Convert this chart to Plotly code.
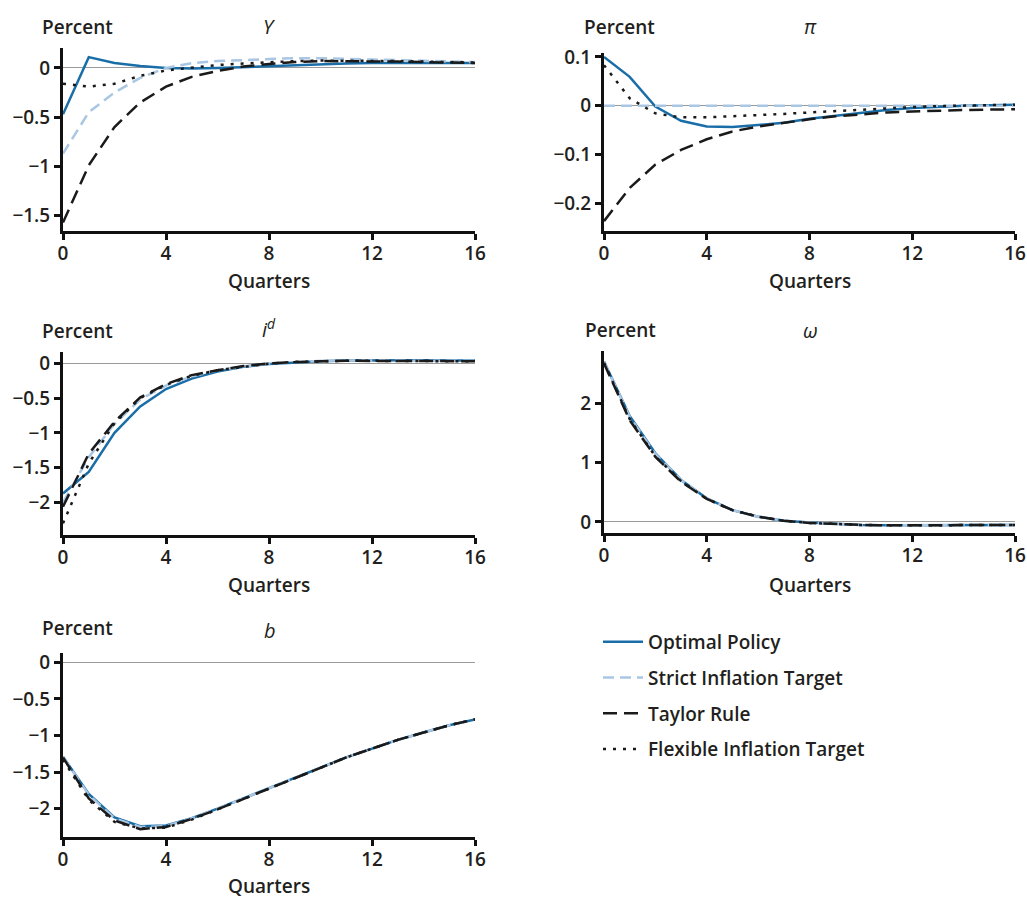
import plotly.graph_objects as go

quarters = list(range(17))

# ---- Output Y ----
y_optimal = [-0.47, 0.11, 0.05, 0.02, 0.0, -0.005, 0.0, 0.01, 0.02, 0.03, 0.04, 0.045, 0.05, 0.05, 0.05, 0.05, 0.05]
y_strict = [-0.87, -0.45, -0.25, -0.10, 0.0, 0.05, 0.07, 0.08, 0.09, 0.10, 0.10, 0.09, 0.085, 0.08, 0.075, 0.07, 0.06]
y_taylor = [-1.57, -0.99, -0.60, -0.35, -0.19, -0.09, -0.03, 0.015, 0.04, 0.06, 0.07, 0.07, 0.07, 0.065, 0.06, 0.055, 0.05]
y_flex = [-0.16, -0.19, -0.16, -0.08, -0.025, 0.0, 0.03, 0.045, 0.06, 0.07, 0.075, 0.075, 0.07, 0.07, 0.065, 0.06, 0.055]

# ---- Inflation pi ----
pi_optimal = [0.10, 0.059, -0.002, -0.031, -0.043, -0.044, -0.040, -0.035, -0.027, -0.021, -0.014, -0.009, -0.005, -0.002, 0.0, 0.001, 0.002]
pi_strict = [0.0] * 17
pi_taylor = [-0.237, -0.169, -0.121, -0.091, -0.069, -0.053, -0.043, -0.035, -0.028, -0.022, -0.018, -0.014, -0.012, -0.010, -0.009, -0.008, -0.0075]
pi_flex = [0.083, 0.015, -0.016, -0.024, -0.024, -0.022, -0.020, -0.017, -0.014, -0.011, -0.0075, -0.005, -0.003, -0.001, 0.0, 0.001, 0.002]

# ---- Deposit rate i^d ----
id_optimal = [-1.87, -1.56, -1.00, -0.62, -0.37, -0.22, -0.12, -0.05, -0.01, 0.015, 0.03, 0.04, 0.045, 0.045, 0.045, 0.04, 0.04]
id_strict = [-2.00, -1.35, -0.87, -0.52, -0.32, -0.19, -0.10, -0.045, -0.005, 0.02, 0.035, 0.04, 0.04, 0.04, 0.04, 0.035, 0.035]
id_taylor = [-2.06, -1.30, -0.84, -0.49, -0.30, -0.17, -0.10, -0.04, 0.0, 0.02, 0.03, 0.035, 0.035, 0.03, 0.03, 0.03, 0.03]
id_flex = [-2.30, -1.44, -0.86, -0.50, -0.31, -0.18, -0.10, -0.05, -0.005, 0.02, 0.03, 0.035, 0.035, 0.03, 0.03, 0.03, 0.03]

# ---- omega ----
w_optimal = [2.71, 1.79, 1.16, 0.71, 0.40, 0.20, 0.09, 0.02, -0.01, -0.034, -0.05, -0.056, -0.056, -0.056, -0.056, -0.05, -0.05]
w_strict = [2.71, 1.78, 1.15, 0.71, 0.40, 0.20, 0.09, 0.02, -0.01, -0.034, -0.05, -0.056, -0.056, -0.056, -0.056, -0.05, -0.05]
w_taylor = [2.68, 1.72, 1.10, 0.68, 0.39, 0.20, 0.09, 0.02, -0.015, -0.035, -0.05, -0.056, -0.056, -0.056, -0.056, -0.05, -0.05]
w_flex = [2.69, 1.74, 1.11, 0.69, 0.39, 0.20, 0.09, 0.02, -0.015, -0.035, -0.05, -0.056, -0.056, -0.056, -0.056, -0.05, -0.05]

# ---- b ----
b_optimal = [-1.29, -1.80, -2.12, -2.24, -2.23, -2.13, -2.00, -1.86, -1.72, -1.58, -1.44, -1.30, -1.18, -1.06, -0.96, -0.86, -0.78]
b_strict = [-1.29, -1.81, -2.13, -2.25, -2.24, -2.13, -2.00, -1.86, -1.72, -1.58, -1.44, -1.30, -1.18, -1.06, -0.96, -0.86, -0.78]
b_taylor = [-1.30, -1.86, -2.16, -2.28, -2.25, -2.14, -2.01, -1.87, -1.72, -1.58, -1.44, -1.30, -1.18, -1.06, -0.96, -0.86, -0.78]
b_flex = [-1.33, -1.88, -2.18, -2.27, -2.26, -2.15, -2.01, -1.87, -1.72, -1.58, -1.44, -1.30, -1.18, -1.06, -0.96, -0.86, -0.78]

series_names = ["Optimal Policy", "Strict Inflation Target", "Taylor Rule", "Flexible Inflation Target"]

x_tickvals = [0, 4, 8, 12, 16]
x_ticktext = ["0", "4", "8", "12", "16"]

panel_titles = ["<i>Y</i>", "<i>π</i>", "<i>i</i><sup><i>d</i></sup>", "<i>ω</i>", "<i>b</i>"]
panel_data = [
    [y_optimal, y_strict, y_taylor, y_flex],
    [pi_optimal, pi_strict, pi_taylor, pi_flex],
    [id_optimal, id_strict, id_taylor, id_flex],
    [w_optimal, w_strict, w_taylor, w_flex],
    [b_optimal, b_strict, b_taylor, b_flex],
]
y_tickvals = [
    [-1.5, -1, -0.5, 0],
    [-0.2, -0.1, 0, 0.1],
    [-2, -1.5, -1, -0.5, 0],
    [0, 1, 2],
    [-2, -1.5, -1, -0.5, 0],
]
y_ticktext = [
    ["−1.5", "−1", "−0.5", "0"],
    ["−0.2", "−0.1", "0", "0.1"],
    ["−2", "−1.5", "−1", "−0.5", "0"],
    ["0", "1", "2"],
    ["−2", "−1.5", "−1", "−0.5", "0"],
]
y_ranges = [
    [-1.657, 0.203],
    [-0.2573, 0.108],
    [-2.467, 0.162],
    [-0.186, 2.889],
    [-2.387, 0.127],
]

W, H = 1027, 899
# pixel boxes: (left, right, top, bottom)
boxes = [
    (63, 475, 48, 231),
    (604, 1015, 53, 231),
    (63, 475, 352, 535),
    (604, 1015, 351, 533),
    (63, 475, 653, 837),
]
percent_pos = [(40, 27), (582, 27), (40, 331), (583, 330), (40, 628)]
title_pos = [(269, 27), (810, 27), (269, 328), (810, 330), (270, 630)]
quarters_y = [281, 281, 585, 585, 886]

colors = ["#1a6ea8", "#a9c6e3", "#1a1a1a", "#1a1a1a"]
dashes = ["solid", "11px,6px", "14px,7px", "3px,7px"]
widths = [2.5, 2.5, 2.5, 2.5]

FONT = "Open Sans"
TXT = "#231f20"
FS = 19

fig = go.Figure()
annotations = []
layout = {}
for i in range(5):
    ax = "" if i == 0 else str(i + 1)
    l, r, t, b = boxes[i]
    layout["xaxis" + ax] = dict(
        domain=[l / W, r / W], range=[0, 16], anchor="y" + ax,
        tickvals=x_tickvals, ticktext=x_ticktext,
        showline=True, linecolor="#111", linewidth=3,
        ticks="outside", ticklen=6, tickwidth=2.5, tickcolor="#111",
        ticklabelstandoff=-3,
        showgrid=False, zeroline=False, fixedrange=True, automargin=False,
        tickfont=dict(family=FONT, size=FS, color=TXT, weight=600),
    )
    layout["yaxis" + ax] = dict(
        domain=[1 - b / H, 1 - t / H], range=y_ranges[i], anchor="x" + ax,
        tickvals=y_tickvals[i], ticktext=y_ticktext[i],
        showline=True, linecolor="#111", linewidth=3,
        ticks="outside", ticklen=6, tickwidth=2.5, tickcolor="#111",
        showgrid=False, zeroline=True, zerolinecolor="#9a9a9a", zerolinewidth=1.2,
        fixedrange=True, automargin=False,
        tickfont=dict(family=FONT, size=FS, color=TXT, weight=600),
    )
    for k in range(4):
        fig.add_trace(go.Scatter(
            x=quarters, y=panel_data[i][k], mode="lines",
            name=series_names[k], legendgroup=series_names[k],
            showlegend=(i == 0),
            line=dict(color=colors[k], dash=dashes[k], width=widths[k]),
            xaxis="x" + ax, yaxis="y" + ax,
        ))
    px_, py_ = percent_pos[i]
    annotations.append(dict(
        text="Percent", xref="paper", yref="paper", x=px_ / W, y=1 - py_ / H,
        xanchor="left", yanchor="middle", showarrow=False,
        font=dict(family=FONT, size=FS, color=TXT, weight=600),
    ))
    tx, ty = title_pos[i]
    annotations.append(dict(
        text=panel_titles[i], xref="paper", yref="paper", x=tx / W, y=1 - ty / H,
        xanchor="center", yanchor="middle", showarrow=False,
        font=dict(family=FONT, size=20, color=TXT),
    ))
    annotations.append(dict(
        text="Quarters", xref="paper", yref="paper", x=((l + r) / 2) / W, y=1 - quarters_y[i] / H,
        xanchor="center", yanchor="middle", showarrow=False,
        font=dict(family=FONT, size=FS, color=TXT, weight=600),
    ))

fig.update_layout(
    **layout,
    width=W, height=H,
    margin=dict(l=0, r=0, t=0, b=0, pad=0, autoexpand=False),
    paper_bgcolor="white", plot_bgcolor="white",
    annotations=annotations,
    showlegend=True,
    legend=dict(
        x=598 / W, y=1 - 623 / H, xanchor="left", yanchor="top",
        font=dict(family=FONT, size=FS, color=TXT, weight=600),
        traceorder="grouped", tracegroupgap=8, itemwidth=40,
        bgcolor="rgba(0,0,0,0)",
    ),
)

fig.write_html(
    "out.html",
    config={"displayModeBar": False},
    post_script="document.body.style.margin='0';document.body.style.padding='0';document.body.style.overflow='hidden';",
)
